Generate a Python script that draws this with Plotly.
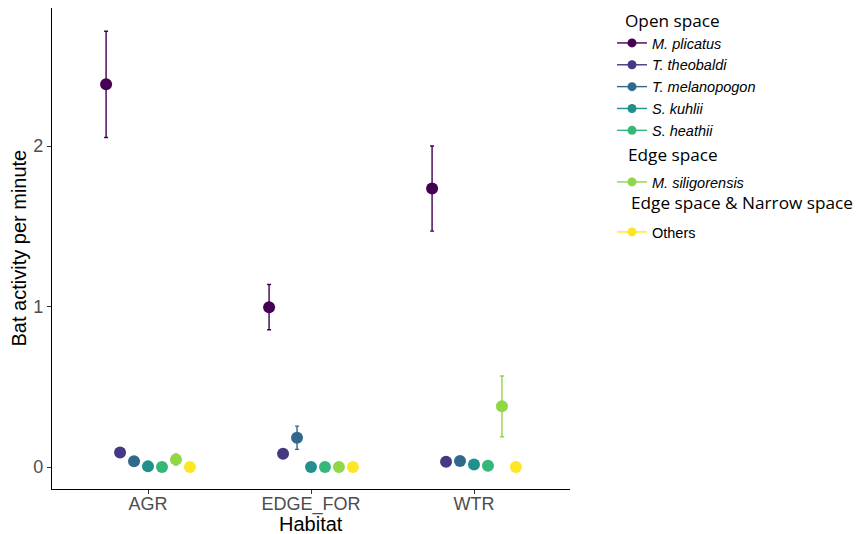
import plotly.graph_objects as go

habitats = ["AGR", "EDGE_FOR", "WTR"]
species = ["M. plicatus", "T. theobaldi", "T. melanopogon", "S. kuhlii", "S. heathii", "M. siligorensis", "Others"]
groups = ["Open space", "Open space", "Open space", "Open space", "Open space", "Edge space", "Edge space & Narrow space"]
group_titles = ["Open space", "Edge space", "Edge space & Narrow space"]
colors = ["#440154", "#443A83", "#31688E", "#21908C", "#35B779", "#8FD744", "#FDE725"]

mean_agr = [2.385, 0.090, 0.036, 0.004, 0.0, 0.047, 0.0]
mean_edge = [0.995, 0.083, 0.183, 0.0, 0.0, 0.0, 0.0]
mean_wtr = [1.735, 0.033, 0.037, 0.015, 0.008, 0.378, 0.0]

lo_agr = [2.053, 0.070, 0.030, 0.0, 0.0, 0.012, 0.0]
hi_agr = [2.715, 0.112, 0.044, 0.008, 0.0, 0.082, 0.0]
lo_edge = [0.855, 0.078, 0.110, 0.0, 0.0, 0.0, 0.0]
hi_edge = [1.137, 0.088, 0.255, 0.0, 0.0, 0.0, 0.0]
lo_wtr = [1.470, 0.028, 0.030, 0.010, 0.004, 0.189, 0.0]
hi_wtr = [2.000, 0.038, 0.044, 0.020, 0.012, 0.567, 0.0]

dodge = 0.6 / len(species)

fig = go.Figure()
for j, sp in enumerate(species):
    means = [mean_agr[j], mean_edge[j], mean_wtr[j]]
    los = [lo_agr[j], lo_edge[j], lo_wtr[j]]
    his = [hi_agr[j], hi_edge[j], hi_wtr[j]]
    xs = [i + (j - 3) * dodge for i in range(len(habitats))]
    fig.add_trace(go.Scatter(
        x=xs, y=means, mode="markers",
        marker=dict(color=colors[j], size=12),
        error_y=dict(type="data", symmetric=False,
                     array=[h - m for h, m in zip(his, means)],
                     arrayminus=[m - l for m, l in zip(means, los)],
                     color=colors[j], thickness=1.4, width=2),
        showlegend=False, hoverinfo="skip"))

legend_ids = {"Open space": "legend", "Edge space": "legend2", "Edge space & Narrow space": "legend3"}
for j, sp in enumerate(species):
    label = sp if sp == "Others" else "<i>" + sp + "</i>"
    fig.add_trace(go.Scatter(
        x=[None], y=[None], mode="lines+markers", name=label,
        marker=dict(color=colors[j], size=9),
        line=dict(color=colors[j], width=1.4),
        legend=legend_ids[groups[j]],
    ))

# page body adds an 8px offset; layout positions below are in screen px
PLOT_TOP, PLOT_BOTTOM, PLOT_LEFT, PLOT_RIGHT = 8, 489, 52, 570
H = PLOT_BOTTOM - PLOT_TOP
W = PLOT_RIGHT - PLOT_LEFT


def py(px):
    return (PLOT_BOTTOM - px) / H


def px_(x):
    return (x - PLOT_LEFT) / W


title_font = dict(family="Open Sans, sans-serif", size=17.2, color="black")
item_font = dict(family="Liberation Sans, Arial, sans-serif", size=14.5, color="black")
common = dict(xanchor="left", yanchor="top", font=item_font, itemwidth=30,
              bgcolor="rgba(0,0,0,0)", tracegroupgap=0, x=px_(612))

annotations = [
    dict(text="Habitat", xref="paper", yref="paper", x=0.5, y=0, yshift=-35,
         xanchor="center", yanchor="middle", showarrow=False,
         font=dict(size=20, color="black")),
    dict(text="Bat activity per minute", xref="paper", yref="paper", x=0, y=0.5,
         xshift=-34, textangle=-90, xanchor="center", yanchor="middle",
         showarrow=False, font=dict(size=20, color="black")),
]
title_pos = [(623, 20), (626, 155), (629, 203)]
for t, (tx, ty) in zip(group_titles, title_pos):
    annotations.append(dict(text=t, xref="paper", yref="paper", x=px_(tx), y=py(ty),
                            xanchor="left", yanchor="middle", showarrow=False,
                            font=title_font))

fig.update_layout(
    width=862, height=534,
    margin=dict(l=PLOT_LEFT - 8, r=862 - W - (PLOT_LEFT - 8), t=0, b=534 - H),
    plot_bgcolor="white", paper_bgcolor="white",
    font=dict(family="Liberation Sans, Arial, sans-serif", color="black"),
    legend=dict(y=py(27), **common),
    legend2=dict(y=py(166), **common),
    legend3=dict(y=py(216), **common),
    xaxis=dict(range=[-0.589, 2.589], tickvals=list(range(len(habitats))), ticktext=habitats,
               showline=True, linecolor="black", linewidth=1.2, ticks="outside",
               ticklen=4, tickcolor="#333333", showgrid=False, zeroline=False,
               tickfont=dict(size=18, color="#4D4D4D"), automargin=False,
               ticklabelstandoff=-6),
    yaxis=dict(range=[-0.137, 2.86], tickvals=[0, 1, 2],
               showline=True, linecolor="black", linewidth=1.2, ticks="outside",
               ticklen=4, tickcolor="#333333", showgrid=False, zeroline=False,
               tickfont=dict(size=18, color="#4D4D4D"), automargin=False),
    annotations=annotations,
)

fig.write_html("out.html")
